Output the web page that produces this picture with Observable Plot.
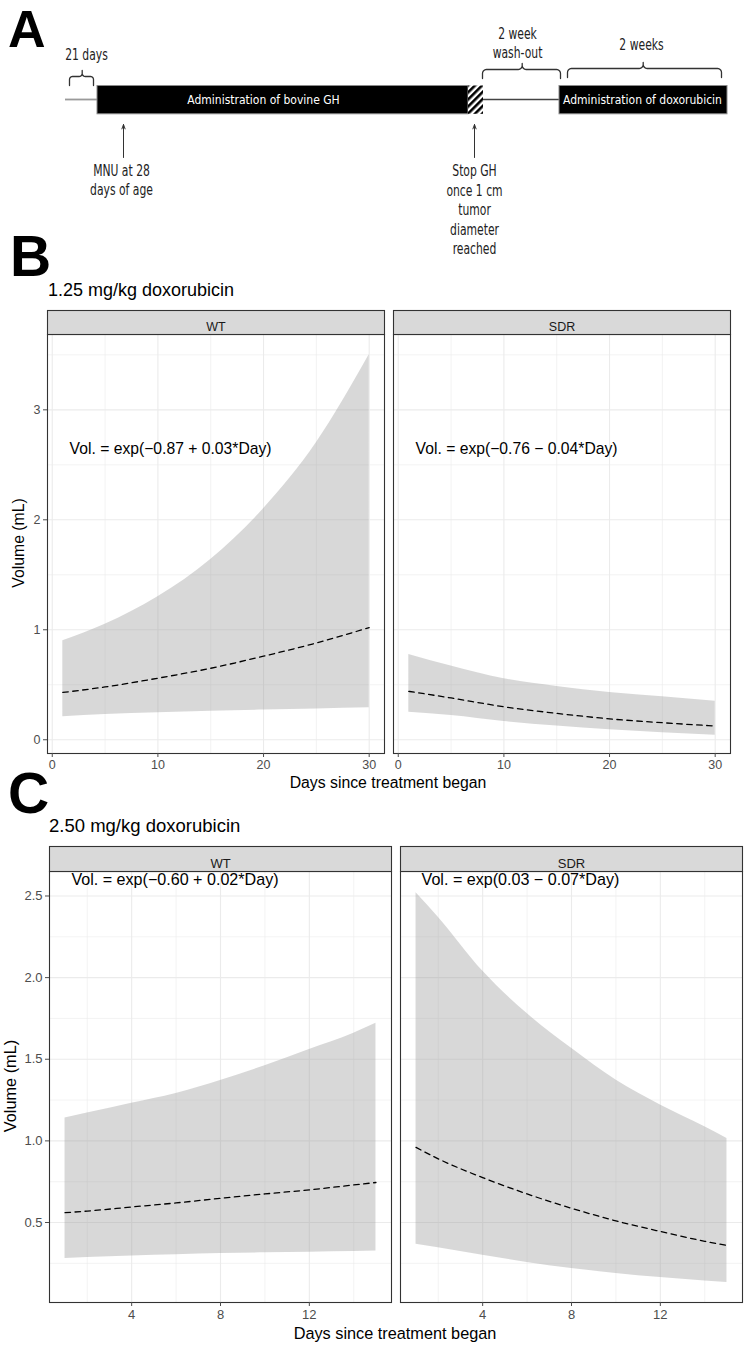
<!DOCTYPE html>
<html>
<head>
<meta charset="utf-8">
<script src="https://cdn.jsdelivr.net/npm/d3@7"></script>
<script src="https://cdn.jsdelivr.net/npm/@observablehq/plot@0.6"></script>
<style>
  body { margin: 0; background: #fff; }
  #root { position: relative; width: 755px; height: 1349px; overflow: hidden; background: #fff;
          font-family: "Liberation Sans", Arial, Helvetica, sans-serif; color: #000; }
  .abs { position: absolute; white-space: nowrap; line-height: 1; }
  .letter { font-weight: bold; }
  .center { transform: translate(-50%, -50%); }
  .vert { transform: translate(-50%, -50%) rotate(-90deg); }
</style>
</head>
<body>
<div id="root"></div>
<script>
// ================= DATA =================
// ---- Panel A: study timeline (diagram units) ----
const phaseLabels = ["Administration of bovine GH", "Administration of doxorubicin"];
const phaseStart  = [97, 559];
const phaseEnd    = [468, 727];
const phaseLabelX = [263, 642];
const hatchStart  = [468];
const hatchEnd    = [483];
const gapStart    = [65, 483];
const gapEnd      = [97, 559];
const braceLabels = ["21 days", "2 week\nwash-out", "2 weeks"];
const braceStart  = [69, 482, 567];
const braceEnd    = [93, 560, 721];
const braceTip    = [81.7, 521.7, 642.7];
const braceBar    = [76, 69, 68];
const braceLabelX = [86, 517, 641];
const braceLabelY = [53, 41.5, 43.5];
const eventLabels = ["MNU at 28\ndays of age", "Stop GH\nonce 1 cm\ntumor\ndiameter\nreached"];
const eventX      = [123, 474];
const eventLabelX = [121, 474];
const eventLabelY = [179, 208.5];

// ---- facets ----
const groups = ["WT", "SDR"];

// ---- Panel B: 1.25 mg/kg doxorubicin ----
const daysB    = [1, 5, 10, 15, 20, 25, 30];
const wtB_fit  = [0.43, 0.48, 0.56, 0.65, 0.76, 0.88, 1.02];
const wtB_lo   = [0.21, 0.23, 0.245, 0.26, 0.27, 0.28, 0.29];
const wtB_hi   = [0.90, 1.05, 1.30, 1.64, 2.10, 2.70, 3.50];
const sdrB_fit = [0.44, 0.38, 0.30, 0.24, 0.19, 0.155, 0.125];
const sdrB_lo  = [0.25, 0.22, 0.166, 0.124, 0.09, 0.064, 0.042];
const sdrB_hi  = [0.775, 0.67, 0.555, 0.485, 0.43, 0.39, 0.35];
const eqB      = ["Vol. = exp(\u22120.87 + 0.03*Day)", "Vol. = exp(\u22120.76 \u2212 0.04*Day)"];
const eqBDay   = [11.2, 11.2];
const xTicksB  = [0, 10, 20, 30];
const xMinorB  = [5, 15, 25];
const yTicksB  = [0, 1, 2, 3];
const yMinorB  = [0.5, 1.5, 2.5, 3.5];

// ---- Panel C: 2.50 mg/kg doxorubicin ----
const daysC    = [1, 2, 4, 6, 8, 10, 12, 14, 15];
const wtC_fit  = [0.56, 0.57, 0.595, 0.62, 0.648, 0.675, 0.70, 0.73, 0.745];
const wtC_lo   = [0.28, 0.285, 0.295, 0.303, 0.31, 0.314, 0.318, 0.322, 0.325];
const wtC_hi   = [1.14, 1.17, 1.23, 1.29, 1.37, 1.46, 1.56, 1.66, 1.72];
const sdrC_fit = [0.96, 0.89, 0.775, 0.675, 0.587, 0.51, 0.445, 0.385, 0.36];
const sdrC_lo  = [0.367, 0.345, 0.30, 0.255, 0.218, 0.188, 0.163, 0.142, 0.132];
const sdrC_hi  = [2.52, 2.37, 2.04, 1.78, 1.567, 1.373, 1.22, 1.087, 1.015];
const eqC      = ["Vol. = exp(\u22120.60 + 0.02*Day)", "Vol. = exp(0.03 \u2212 0.07*Day)"];
const eqCDay   = [5.95, 5.7];
const xTicksC  = [4, 8, 12];
const xMinorC  = [2, 6, 10, 14];
const yTicksC  = [0.5, 1, 1.5, 2, 2.5];
const yMinorC  = [0.25, 0.75, 1.25, 1.75, 2.25];

// ================= BUILD =================
const root = document.getElementById("root");
const SANS = "'Liberation Sans', Arial, Helvetica, sans-serif";
const NARROW = "'Liberation Sans Narrow', 'Arial Narrow', 'DejaVu Sans Condensed', 'DejaVu Sans', sans-serif";

function place(node, top) {
  const wrap = document.createElement("div");
  wrap.style.position = "absolute";
  wrap.style.left = "0px";
  wrap.style.top = top + "px";
  wrap.appendChild(node);
  root.appendChild(wrap);
}
function addText(txt, cls, css) {
  const d = document.createElement("div");
  d.className = "abs " + (cls || "");
  d.textContent = txt;
  Object.assign(d.style, css);
  root.appendChild(d);
}

// ---- Panel A ----
const phaseRows = phaseLabels.map((label, i) => ({label, start: phaseStart[i], end: phaseEnd[i], lx: phaseLabelX[i]}));
const hatchRows = hatchStart.map((s, i) => ({start: s, end: hatchEnd[i]}));
const gapRows = gapStart.map((s, i) => ({x1: s, x2: gapEnd[i]}));
const braceRows = braceLabels.map((label, i) => ({label, x0: braceStart[i], x1: braceEnd[i], tip: braceTip[i], bar: braceBar[i], lx: braceLabelX[i], ly: braceLabelY[i]}));
const eventRows = eventLabels.map((label, i) => ({label, x: eventX[i], lx: eventLabelX[i], ly: eventLabelY[i]}));

function bracePoints(b, id) {
  const yTip = b.bar - 6, yEnd = b.bar + 9;
  const r = Math.min(4, b.bar - yTip, (b.x1 - b.x0) / 8);
  const pts = [];
  const arc = (cx, cy, a0, a1) => {
    for (let k = 0; k <= 6; k++) {
      const a = (a0 + (a1 - a0) * k / 6) * Math.PI / 180;
      pts.push({id, x: cx + r * Math.cos(a), y: cy + r * Math.sin(a)});
    }
  };
  pts.push({id, x: b.x0, y: yEnd});
  arc(b.x0 + r, b.bar + r, 180, 270);
  arc(b.tip - r, b.bar - r, 90, 0);
  pts.push({id, x: b.tip, y: yTip});
  arc(b.tip + r, b.bar - r, 180, 90);
  arc(b.x1 - r, b.bar + r, 270, 360);
  pts.push({id, x: b.x1, y: yEnd});
  return pts;
}
const braceData = braceRows.flatMap((b, i) => bracePoints(b, i));

const svgA = Plot.plot({
  width: 755, height: 260, margin: 0,
  x: {domain: [0, 755], range: [0, 755], axis: null},
  y: {domain: [0, 260], range: [0, 260], axis: null},
  style: {background: "none", overflow: "visible", fontFamily: NARROW},
  marks: [
    Plot.ruleY(gapRows.slice(0, 1), {y: () => 99, x1: "x1", x2: "x2", stroke: "#9a9a9a", strokeWidth: 1.8}),
    Plot.ruleY(gapRows.slice(1), {y: () => 99, x1: "x1", x2: "x2", stroke: "#444", strokeWidth: 1.4}),
    Plot.rect(phaseRows, {x1: "start", x2: "end", y1: () => 85.5, y2: () => 113.8, fill: "black", stroke: "#8a8a8a", strokeWidth: 1}),
    Plot.rect(hatchRows, {x1: "start", x2: "end", y1: () => 85.5, y2: () => 113.8, fill: "url(#hatchA)"}),
    Plot.text(phaseRows, {x: "lx", y: () => 99.5, text: "label", fill: "white", fontSize: 12, fontFamily: NARROW}),
    Plot.line(braceData, {x: "x", y: "y", z: "id", stroke: "#333", strokeWidth: 1.3}),
    Plot.text(braceRows, {x: "lx", y: "ly", text: "label", fill: "#222", fontSize: 15, lineHeight: 1.3, fontFamily: NARROW}),
    Plot.arrow(eventRows, {x1: "x", x2: "x", y1: () => 157, y2: () => 124, stroke: "#333", strokeWidth: 1, headLength: 7, headAngle: 40}),
    Plot.text(eventRows, {x: "lx", y: "ly", text: "label", fill: "#222", fontSize: 15, lineHeight: 1.3, fontFamily: NARROW})
  ]
});
{
  const defs = d3.select(svgA).insert("defs", ":first-child");
  const pat = defs.append("pattern").attr("id", "hatchA").attr("patternUnits", "userSpaceOnUse")
    .attr("width", 5).attr("height", 5).attr("patternTransform", "rotate(45)");
  pat.append("rect").attr("width", 5).attr("height", 5).attr("fill", "white");
  pat.append("rect").attr("width", 2.6).attr("height", 5).attr("fill", "black");
}
place(svgA, 0);
// condense the dark panel-A lettering horizontally (the original uses a narrow typeface)
d3.select(svgA).selectAll("g[aria-label='text']")
  .filter(function () { return this.getAttribute("fill") !== "white"; })
  .selectAll("text").each(function () {
    const spans = this.querySelectorAll("tspan");
    const els = spans.length ? Array.from(spans) : [this];
    els.forEach(el => {
      const w = el.getComputedTextLength();
      if (w > 0) {
        el.setAttribute("textLength", (w * 0.8).toFixed(2));
        el.setAttribute("lengthAdjust", "spacingAndGlyphs");
      }
    });
  });

// ---- Faceted panels ----
function rows(days, fit, lo, hi, group) {
  return days.map((d, i) => ({group, day: d, fit: fit[i], lo: lo[i], hi: hi[i]}));
}
function facetChart(o) {
  const panelH = o.height - o.marginTop - o.marginBottom;
  const ann = groups.map((g, i) => ({group: g, label: o.eq[i], day: o.eqDay[i]}));
  return Plot.plot({
    width: 755, height: o.height,
    marginLeft: o.marginLeft, marginRight: o.marginRight, marginTop: o.marginTop, marginBottom: o.marginBottom,
    style: {background: "none", overflow: "visible", fontFamily: SANS},
    fx: {domain: groups, paddingInner: o.pad, paddingOuter: 0, round: false, axis: null, label: null},
    x: {domain: o.xDomain},
    y: {domain: o.yDomain},
    marks: [
      Plot.ruleY(o.yMinor, {stroke: "#EBEBEB", strokeWidth: 0.6}),
      Plot.ruleX(o.xMinor, {stroke: "#EBEBEB", strokeWidth: 0.6}),
      Plot.ruleY(o.yTicks, {stroke: "#EBEBEB", strokeWidth: 1.1}),
      Plot.ruleX(o.xTicks, {stroke: "#EBEBEB", strokeWidth: 1.1}),
      Plot.areaY(o.data, {x: "day", y1: "lo", y2: "hi", fx: "group", fill: "#999", fillOpacity: 0.38, curve: "monotone-x"}),
      Plot.line(o.data, {x: "day", y: "fit", fx: "group", stroke: "#000", strokeWidth: 1.3, strokeDasharray: "5.5,4.5", curve: "monotone-x"}),
      Plot.text(ann, {fx: "group", x: "day", y: () => o.annY, text: "label", fill: "#000", fontSize: o.annSize}),
      Plot.frame({stroke: "#333", strokeWidth: 1.1}),
      Plot.frame({fill: "#D9D9D9", stroke: "#333", strokeWidth: 1.1, insetTop: -o.stripH, insetBottom: panelH}),
      Plot.text(groups, {fx: d => d, text: d => d, frameAnchor: "top", dy: -o.stripH / 2, fill: "#1A1A1A", fontSize: o.tickSize}),
      Plot.axisX({ticks: o.xTicks, tickSize: 4, tickPadding: 3, fontSize: o.tickSize, color: "#4D4D4D", label: null}),
      Plot.axisY({ticks: o.yTicks, tickFormat: o.yFormat, tickSize: 4, tickPadding: 3, fontSize: o.tickSize, color: "#4D4D4D", label: null})
    ]
  });
}

const dataB = [...rows(daysB, wtB_fit, wtB_lo, wtB_hi, "WT"), ...rows(daysB, sdrB_fit, sdrB_lo, sdrB_hi, "SDR")];
const dataC = [...rows(daysC, wtC_fit, wtC_lo, wtC_hi, "WT"), ...rows(daysC, sdrC_fit, sdrC_lo, sdrC_hi, "SDR")];

const svgB = facetChart({
  data: dataB, eq: eqB, eqDay: eqBDay, height: 495, marginLeft: 47, marginRight: 25, marginTop: 34, marginBottom: 42,
  pad: 9 / 346, stripH: 24, xDomain: [-0.45, 31.45], yDomain: [-0.125, 3.685],
  xTicks: xTicksB, xMinor: xMinorB, yTicks: yTicksB, yMinor: yMinorB, yFormat: d3.format("d"),
  annY: 2.64, annSize: 15.7, tickSize: 12.5
});
place(svgB, 300);

const svgC = facetChart({
  data: dataC, eq: eqC, eqDay: eqCDay, height: 513, marginLeft: 49, marginRight: 13, marginTop: 35, marginBottom: 47,
  pad: 9 / 351, stripH: 25, xDomain: [0.3, 15.7], yDomain: [0.01, 2.65],
  xTicks: xTicksC, xMinor: xMinorC, yTicks: yTicksC, yMinor: yMinorC, yFormat: d3.format(".1f"),
  annY: 2.6, annSize: 16.1, tickSize: 13
});
place(svgC, 836);

// ---- Text: panel letters, subtitles, axis titles ----
addText("A", "letter", {left: "8px", top: "3px", fontSize: "52px"});
addText("B", "letter", {left: "10px", top: "228px", fontSize: "57px"});
addText("C", "letter", {left: "8px", top: "765px", fontSize: "57px"});
addText("1.25 mg/kg doxorubicin", "", {left: "48px", top: "281px", fontSize: "18px"});
addText("2.50 mg/kg doxorubicin", "", {left: "49px", top: "817px", fontSize: "18.5px"});
addText("Days since treatment began", "center", {left: "388px", top: "783px", fontSize: "15.8px"});
addText("Days since treatment began", "center", {left: "395px", top: "1333px", fontSize: "16.3px"});
addText("Volume (mL)", "vert", {left: "19px", top: "543px", fontSize: "15.8px"});
addText("Volume (mL)", "vert", {left: "10px", top: "1086px", fontSize: "16.3px"});
</script>
</body>
</html>
